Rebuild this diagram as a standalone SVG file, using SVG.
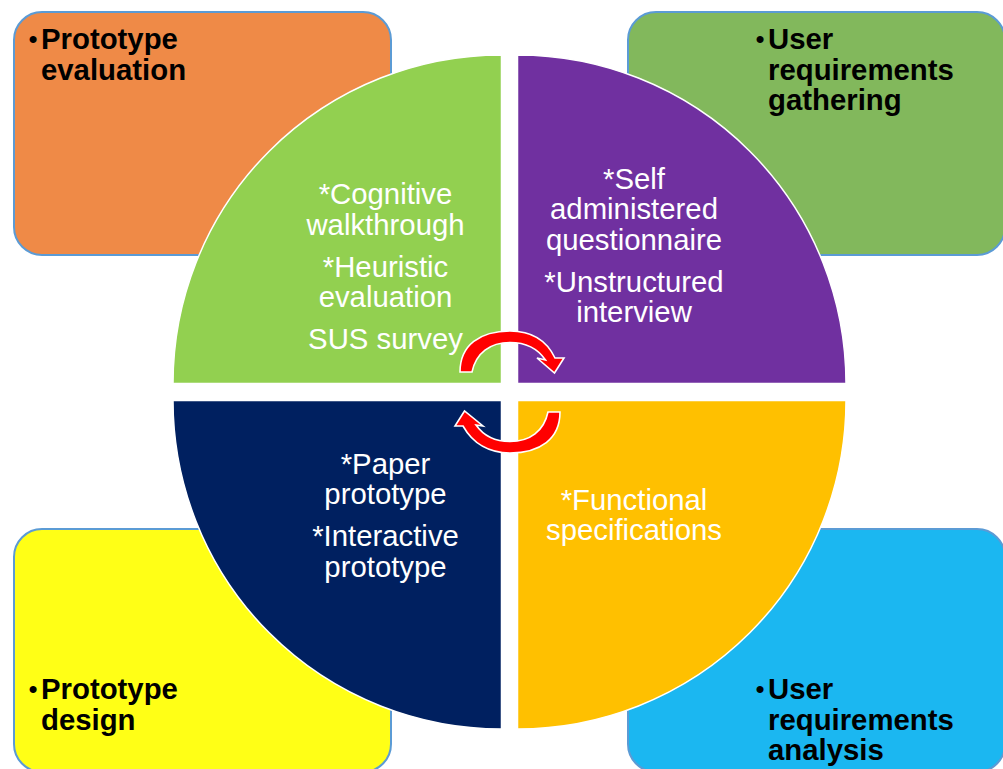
<svg xmlns="http://www.w3.org/2000/svg" width="1003" height="769" viewBox="0 0 1003 769">
<style>
text{font-family:"Liberation Sans",Arial,sans-serif}
.box{stroke:#5b9bd5;stroke-width:2}
.sec{stroke:#fff;stroke-width:1.5}
.lbl{font-size:29.33px;font-weight:700;fill:#000}
.bul{font-size:26px;fill:#000}
.in{font-size:29.33px;fill:#fff;text-anchor:middle}
.arr{fill:#f00;stroke:#fff;stroke-width:1.600;stroke-linejoin:miter}
</style>
<rect width="1003" height="769" fill="#fff"/>
<g id="box-evaluation"><rect class="box" x="14" y="12" width="377" height="243" rx="28" fill="#ef8a47"/>
<text class="bul" x="28.500" y="48">•</text><text class="lbl" x="41" y="49">Prototype</text><text class="lbl" x="41" y="80">evaluation</text></g>
<g id="box-gathering"><rect class="box" x="628" y="12" width="377" height="243" rx="28" fill="#82b85c"/>
<text class="bul" x="755.500" y="48">•</text><text class="lbl" x="768" y="49">User</text><text class="lbl" x="768" y="80">requirements</text><text class="lbl" x="768" y="110">gathering</text></g>
<g id="box-design"><rect class="box" x="14" y="529" width="377" height="243" rx="28" fill="#ffff16"/>
<text class="bul" x="28.500" y="698">•</text><text class="lbl" x="41" y="699">Prototype</text><text class="lbl" x="41" y="730">design</text></g>
<g id="box-analysis"><rect class="box" x="628" y="529" width="377" height="243" rx="28" fill="#1bb7f1"/>
<text class="bul" x="755.500" y="698">•</text><text class="lbl" x="768" y="699">User</text><text class="lbl" x="768" y="730">requirements</text><text class="lbl" x="768" y="760">analysis</text></g>
<g id="sector-green"><path class="sec" d="M501.500 383.500V55A328.500 328.500 0 0 0 173 383.500Z" fill="#92d050"/>
<text class="in" x="385.500" y="204">*Cognitive</text><text class="in" x="385.500" y="235">walkthrough</text><text class="in" x="385.500" y="277">*Heuristic</text><text class="in" x="385.500" y="307">evaluation</text><text class="in" x="385.500" y="349">SUS survey</text></g>
<g id="sector-purple"><path class="sec" d="M517.500 383.500V55A328.500 328.500 0 0 1 846 383.500Z" fill="#7030a0"/>
<text class="in" x="634" y="189">*Self</text><text class="in" x="634" y="219">administered</text><text class="in" x="634" y="250">questionnaire</text><text class="in" x="634" y="292">*Unstructured</text><text class="in" x="634" y="322">interview</text></g>
<g id="sector-navy"><path class="sec" d="M501.500 400.500V729A328.500 328.500 0 0 1 173 400.500Z" fill="#002060"/>
<text class="in" x="385.500" y="474">*Paper</text><text class="in" x="385.500" y="504">prototype</text><text class="in" x="385.500" y="546">*Interactive</text><text class="in" x="385.500" y="577">prototype</text></g>
<g id="sector-yellow"><path class="sec" d="M517.500 400.500V729A328.500 328.500 0 0 0 846 400.500Z" fill="#ffc000"/>
<text class="in" x="634" y="510">*Functional</text><text class="in" x="634" y="540">specifications</text></g>
<g id="connectors">
<path class="arr" d="M460 372C460 345 480 331 510 331C530 331 546 339 555 358L564 358L554.500 373L537 358L545.500 360C538 349 526 342.500 510 342.500C490 342.500 476 353 472 372Z"/>
<path class="arr" d="M560 412C560 439 540 453 510 453C490 453 473 444 463 426L455 426L464.500 411L483 426L476 425C483 435 494 441.500 510 441.500C530 441.500 544 431 548 412Z"/>
</g>
</svg>
